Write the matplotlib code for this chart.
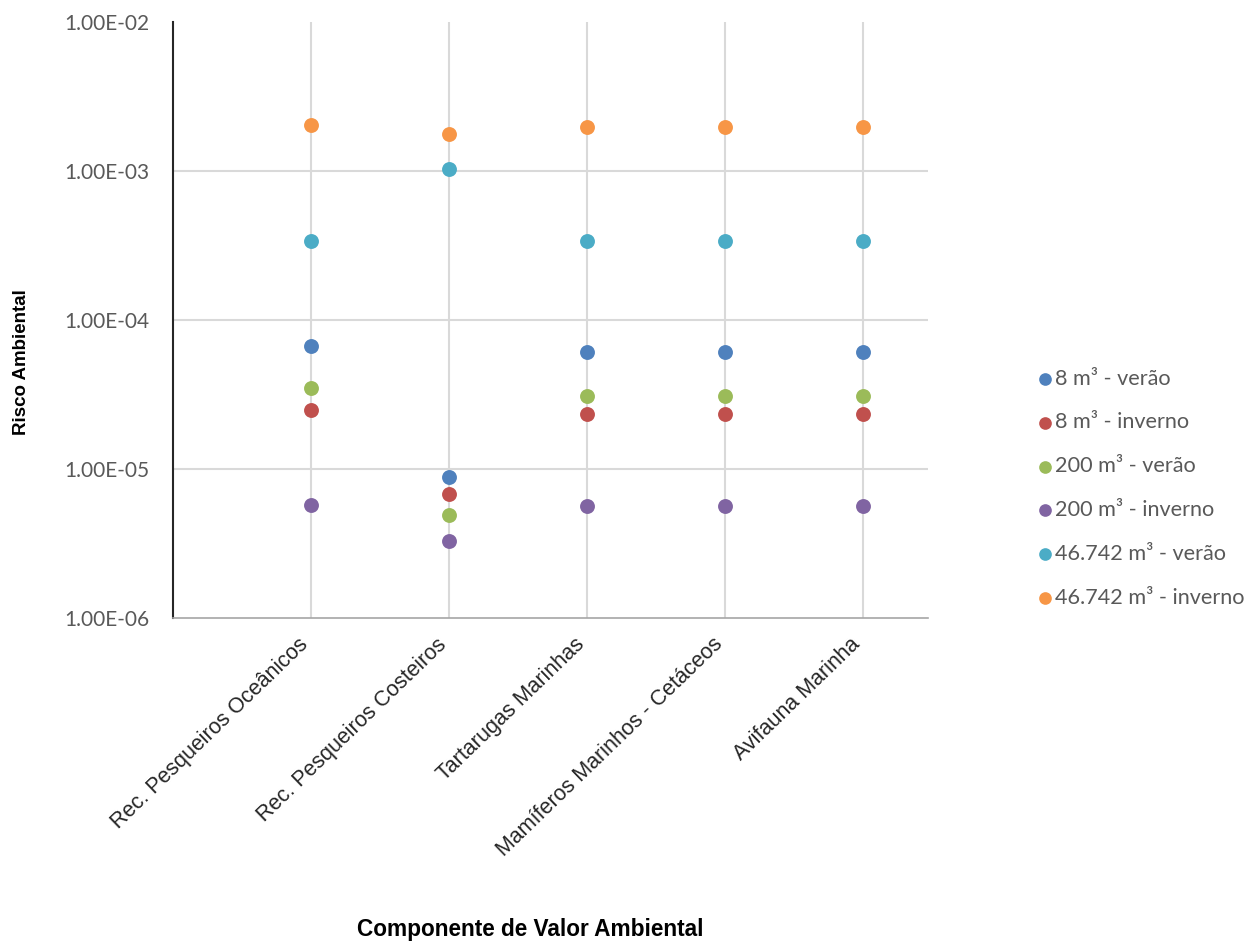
import numpy as np
import matplotlib
matplotlib.use("Agg")
import matplotlib.pyplot as plt
import matplotlib.transforms as mtrans
from matplotlib.ticker import FixedLocator, FuncFormatter

categorias = ["Rec. Pesqueiros Oceânicos", "Rec. Pesqueiros Costeiros",
              "Tartarugas Marinhas", "Mamíferos Marinhos - Cetáceos",
              "Avifauna Marinha"]

series = ["8 m³ - verão", "8 m³ - inverno", "200 m³ - verão",
          "200 m³ - inverno", "46.742 m³ - verão", "46.742 m³ - inverno"]

v8_verao = [6.7e-5, 8.8e-6, 6.1e-5, 6.1e-5, 6.1e-5]
v8_inverno = [2.5e-5, 6.8e-6, 2.35e-5, 2.35e-5, 2.35e-5]
v200_verao = [3.5e-5, 4.9e-6, 3.1e-5, 3.1e-5, 3.1e-5]
v200_inverno = [5.75e-6, 3.3e-6, 5.65e-6, 5.65e-6, 5.65e-6]
v46742_verao = [3.4e-4, 1.03e-3, 3.4e-4, 3.4e-4, 3.4e-4]
v46742_inverno = [2.05e-3, 1.77e-3, 1.98e-3, 1.98e-3, 1.98e-3]

valores = [v8_verao, v8_inverno, v200_verao, v200_inverno, v46742_verao, v46742_inverno]
cores = ["#4F81BD", "#C0504D", "#9BBB59", "#8064A2", "#4BACC6", "#F79646"]

fig = plt.figure(figsize=(12.6, 9.46), dpi=100)
ax = fig.add_axes([0.1373, 0.3467, 0.599, 0.6300])

x = np.arange(1, len(categorias) + 1)
for nome, vals, cor in zip(series, valores, cores):
    ax.scatter(x, vals, s=115, color=cor, label=nome, zorder=3, linewidths=0)

ax.set_yscale("log")
ax.set_ylim(1e-6, 1e-2)
ax.set_xlim(0, 5.47)
ax.yaxis.set_major_locator(FixedLocator([1e-6, 1e-5, 1e-4, 1e-3, 1e-2]))
ax.yaxis.set_minor_locator(FixedLocator([]))
ax.yaxis.set_major_formatter(FuncFormatter(lambda v, p: "%.2E" % v))
ax.set_xticks(x)
ax.set_xticklabels([])
ax.tick_params(axis="y", length=0, pad=17, labelsize=15, labelcolor="#595959")
for t in ax.get_yticklabels():
    t.set_family("Lato")
ax.tick_params(axis="x", length=0)

# rotulos das categorias (desenhados a parte para poder desloca-los)
desloc = mtrans.ScaledTranslation(-0.13, -0.16, fig.dpi_scale_trans)
for xi, nome in zip(x, categorias):
    ax.text(xi, 0, nome, transform=ax.get_xaxis_transform() + desloc,
            rotation=44, ha="right", va="top", rotation_mode="anchor",
            fontsize=15.5, family="Liberation Sans", color="#262626")

ax.grid(True, color="#D9D9D9", linewidth=1.5, zorder=0)
ax.set_axisbelow(True)
ax.yaxis.get_gridlines()[-1].set_visible(False)
ax.yaxis.get_gridlines()[0].set_visible(False)

for s in ["top", "right"]:
    ax.spines[s].set_visible(False)
ax.spines["left"].set_color("#262626")
ax.spines["left"].set_linewidth(1.5)
ax.spines["bottom"].set_color("#A6A6A6")
ax.spines["bottom"].set_linewidth(1.2)

fig.text(0.017, 0.617, "Risco Ambiental", rotation=90, ha="center", va="center",
         fontsize=13.5, fontweight="bold", family="Liberation Sans", color="#000000")
fig.text(0.421, 0.017, "Componente de Valor Ambiental", ha="center", va="center",
         fontsize=16.3, fontweight="bold", family="Liberation Sans", color="#000000")

leg = ax.legend(loc="center left", bbox_to_anchor=(0.797, 0.484), bbox_transform=fig.transFigure,
                frameon=False, handletextpad=-0.55, labelspacing=1.1, markerscale=0.85,
                prop={"family": "Lato", "size": 15.6})
for t in leg.get_texts():
    t.set_color("#595959")

fig.savefig("out.png", dpi=100)
